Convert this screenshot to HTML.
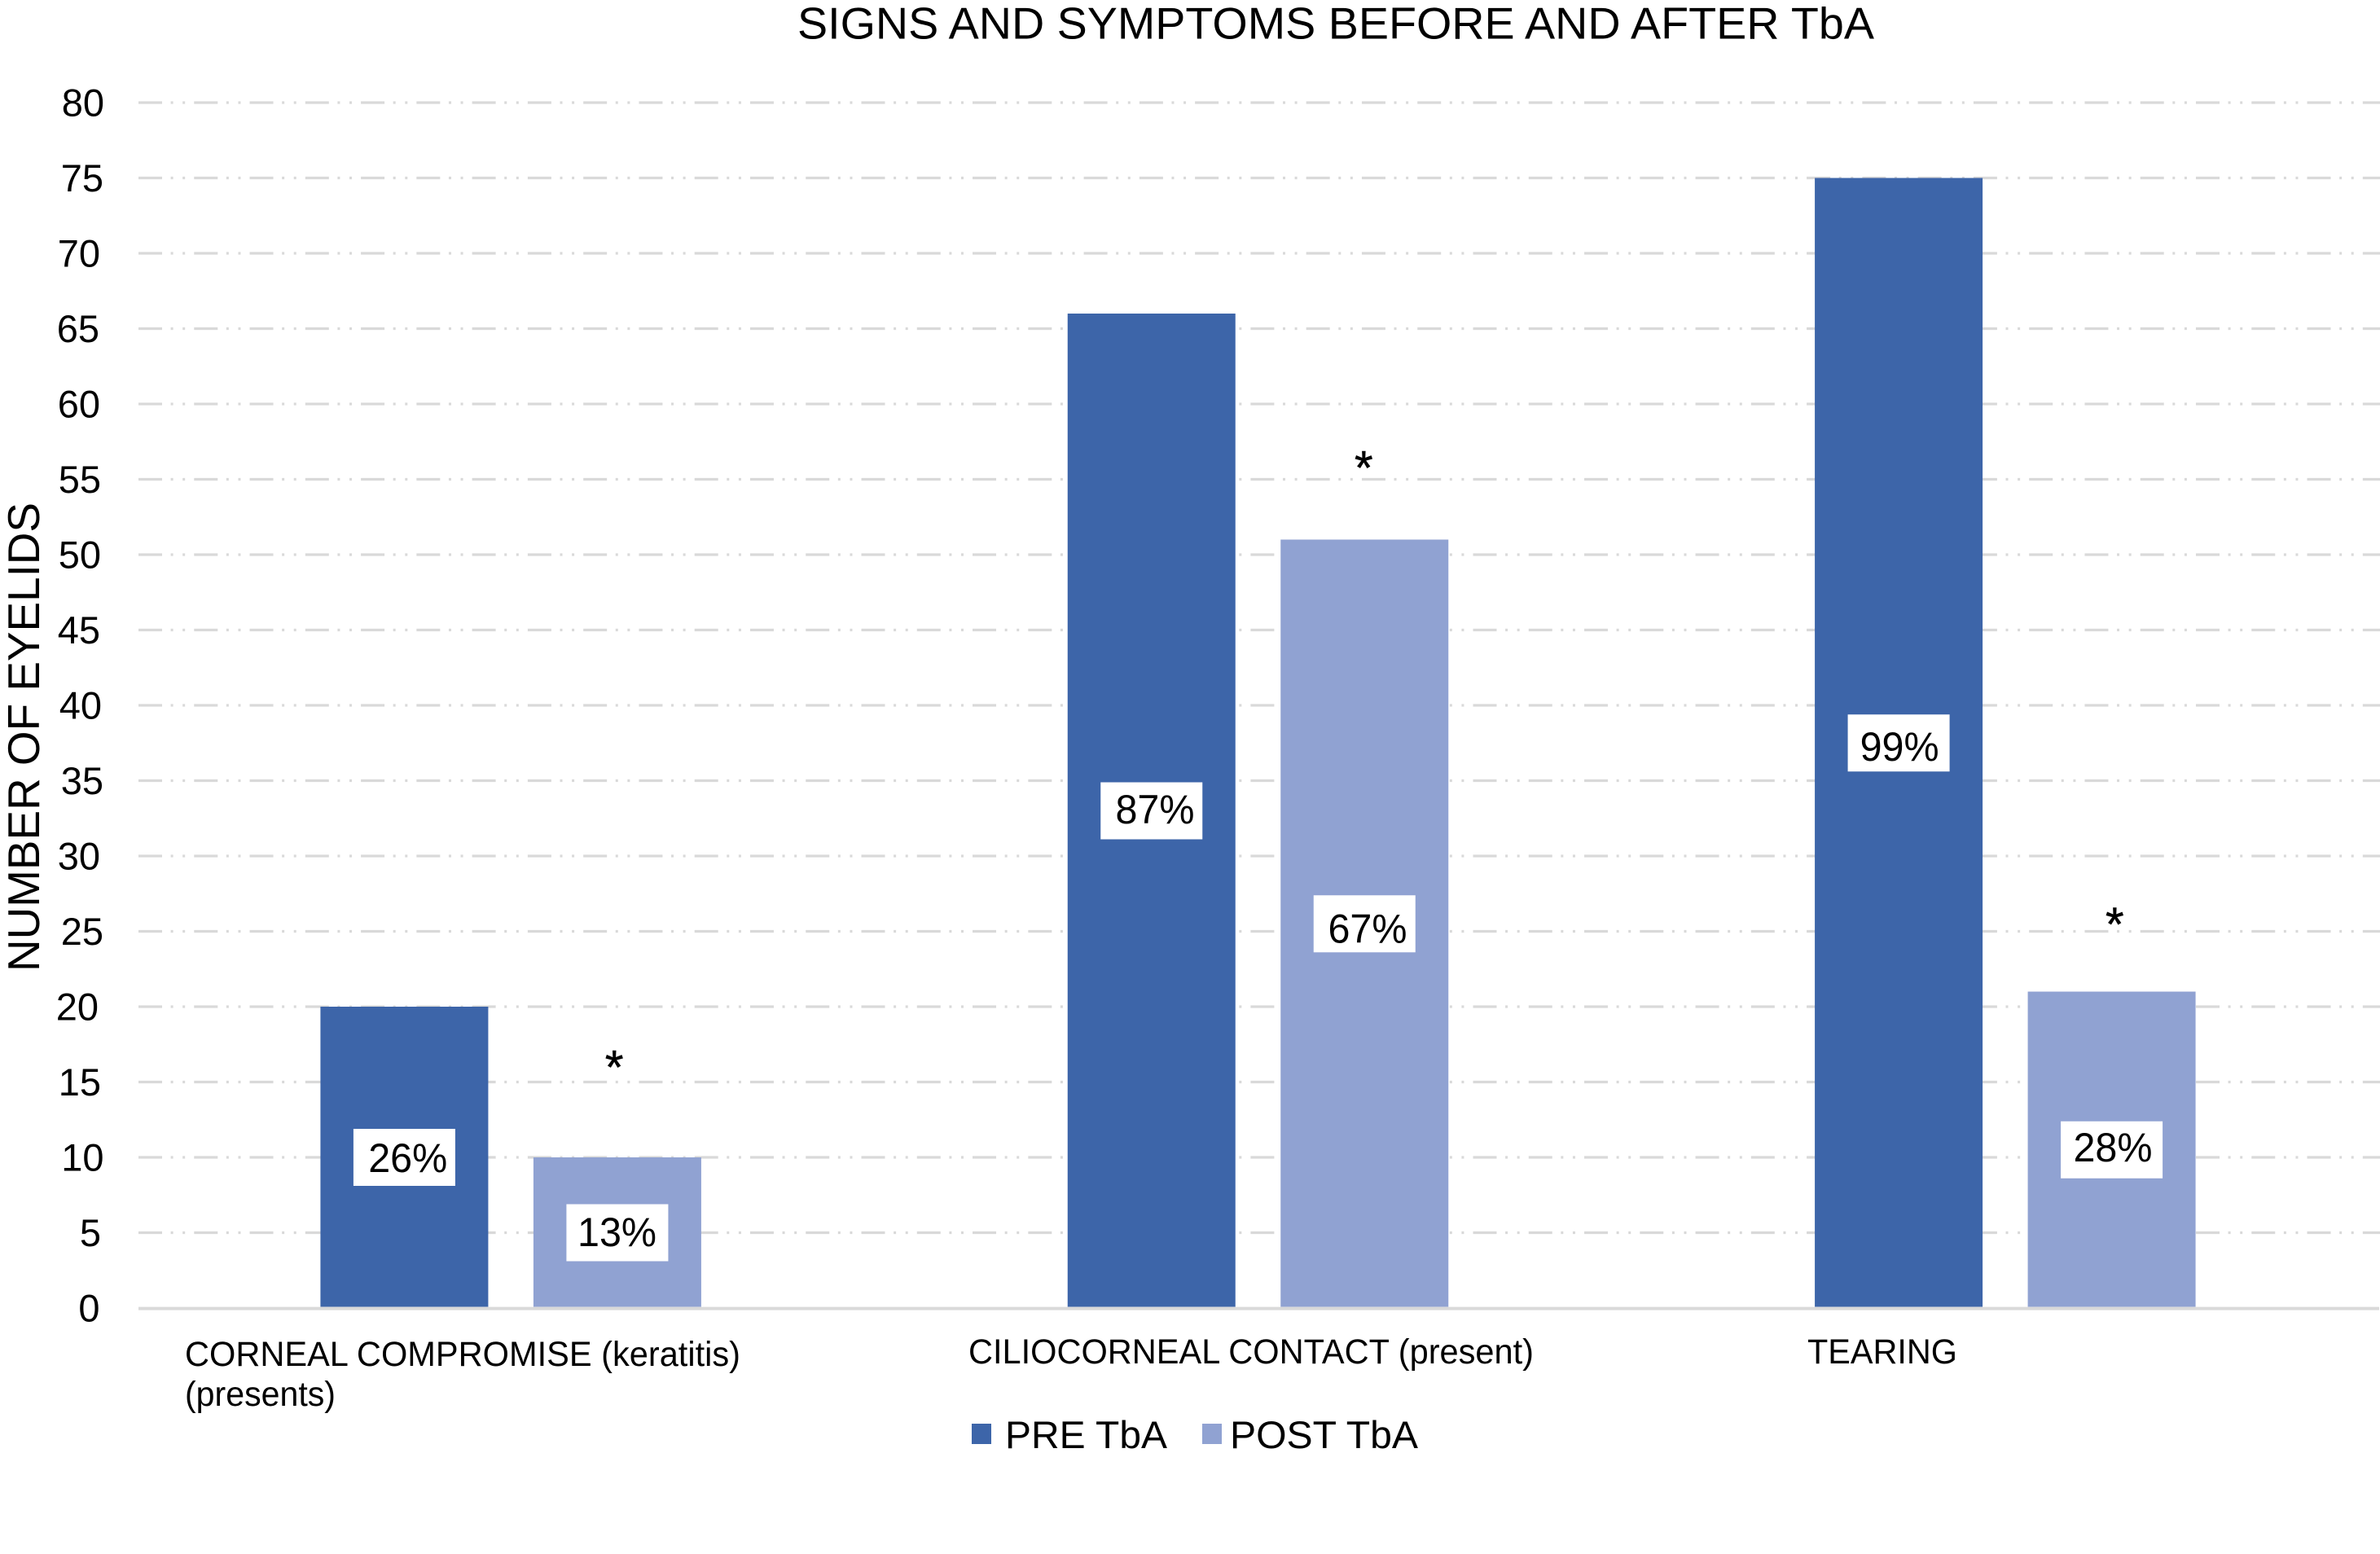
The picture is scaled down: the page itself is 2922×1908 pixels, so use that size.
<!DOCTYPE html>
<html lang="en">
<head>
<meta charset="utf-8">
<title>Signs and symptoms before and after TbA</title>
<style>
  html, body { margin: 0; padding: 0; background: #ffffff; }
  #chart { display: block; width: 2922px; height: 1908px; background: #ffffff; }
  text { font-family: "Liberation Sans", Arial, sans-serif; fill: #000000; }
</style>
</head>
<body>
<svg id="chart" xmlns="http://www.w3.org/2000/svg" width="2922" height="1908" viewBox="0 0 2922 1908">
  <rect x="0" y="0" width="2922" height="1908" fill="#ffffff"/>
  <g id="grid"></g>
  <g id="ticks"></g>
  <g id="bars"></g>
  <g id="labels"></g>
  <g id="marks"></g>

  <text x="979" y="47.5" font-size="55" textLength="1322" lengthAdjust="spacingAndGlyphs">SIGNS AND SYMPTOMS BEFORE AND AFTER TbA</text>
  <text transform="translate(48 1193) rotate(-90)" font-size="55" textLength="576" lengthAdjust="spacingAndGlyphs">NUMBER OF EYELIDS</text>

  <text x="227" y="1677" font-size="43" textLength="682" lengthAdjust="spacingAndGlyphs">CORNEAL COMPROMISE (keratitis)</text>
  <text x="227" y="1726" font-size="43" textLength="185" lengthAdjust="spacingAndGlyphs">(presents)</text>
  <text x="1189" y="1674" font-size="43" textLength="694" lengthAdjust="spacingAndGlyphs">CILIOCORNEAL CONTACT (present)</text>
  <text x="2219" y="1674" font-size="43" textLength="184" lengthAdjust="spacingAndGlyphs">TEARING</text>

  <g>
    <g>
      <rect x="1193" y="1748" width="24" height="25" fill="#3d65a9"/>
      <text x="1234" y="1778" font-size="47.6" textLength="199" lengthAdjust="spacingAndGlyphs">PRE TbA</text>
    </g>
    <g>
      <rect x="1476" y="1748" width="24" height="25" fill="#90a2d2"/>
      <text x="1510" y="1778" font-size="47.6" textLength="231" lengthAdjust="spacingAndGlyphs">POST TbA</text>
    </g>
  </g>
</svg>

<script>
const categories = ["Corneal compromise", "Ciliocorneal contact", "Tearing"];
const tickValues = [0, 5, 10, 15, 20, 25, 30, 35, 40, 45, 50, 55, 60, 65, 70, 75, 80];
const preValues = [20, 66, 75];
const postValues = [10, 51, 21];
const prePercentLabels = ["26%", "87%", "99%"];
const postPercentLabels = ["13%", "67%", "28%"];
const asteriskLevels = [16.4, 56.2, 25.9];

const NS = "http://www.w3.org/2000/svg";
const plotLeft = 170;
const plotRight = 2922;
const plotZeroY = 1606;
const plotTopY = 126;
const axisMax = 80;
const barWidth = 206;
const barOffset = 130.75;
const groupShift = -1.5;
const boxWidth = 125;
const boxHeight = 70;

/* Hand-placement offsets seen in the source artwork (layout only, not data). */
const tickNudgeX = [-2.5, -1, 2.5, -1, -4, 2, -2, 2, 0, -2, -1, -1, -2, -3, -2, 2, 3];
const preLabelNudge = [[4.3, 18], [4.2, 15.5], [1, 21.7]];
const postLabelNudge = [[-0.4, 16.5], [3.7, 23.3], [1.4, 14.25]];
const asteriskNudgeX = [-3.7, -1, 3.7];

function yScale(v) {
  return plotZeroY - (v / axisMax) * (plotZeroY - plotTopY);
}
function categoryCenter(i) {
  const band = (plotRight - plotLeft) / categories.length;
  return plotLeft + band * (i + 0.5) + groupShift;
}
function make(tag, attrs, text) {
  const el = document.createElementNS(NS, tag);
  for (const k in attrs) el.setAttribute(k, attrs[k]);
  if (text !== undefined) el.textContent = text;
  return el;
}

const gridGroup = document.getElementById("grid");
const tickGroup = document.getElementById("ticks");
const barGroup = document.getElementById("bars");
const labelGroup = document.getElementById("labels");
const markGroup = document.getElementById("marks");

tickValues.forEach(function (t, i) {
  const y = yScale(t);
  if (t === 0) {
    const axis = make("line", { x1: plotLeft, x2: plotRight - 1, y1: y + 0.6, y2: y + 0.6, stroke: "#d9d9d9", "stroke-width": 4 });
    
    
    gridGroup.appendChild(axis);
  } else {
    const line = make("line", { x1: plotLeft, x2: plotRight, y1: y, y2: y, stroke: "#d9d9d9", "stroke-width": 3.3, "stroke-dasharray": "29 10.6 3 11.6 3 11.07" });
    
    
    gridGroup.appendChild(line);
  }
  const label = make("text", { x: 125 + tickNudgeX[i], y: y + 16.5, "font-size": 47, "text-anchor": "end" }, String(t));
  
  
  tickGroup.appendChild(label);
});

function drawSeries(values, percents, side, color, nudges) {
  values.forEach(function (v, i) {
    const cx = categoryCenter(i) + side * barOffset;
    const top = yScale(v);
    const bar = make("rect", { x: cx - barWidth / 2, y: top, width: barWidth, height: plotZeroY - 1.5 - top, fill: color });
    
    
    barGroup.appendChild(bar);

    const midY = yScale(v / 2);
    const box = make("rect", { x: cx - boxWidth / 2, y: midY - boxHeight / 2, width: boxWidth, height: boxHeight, fill: "#ffffff" });
    
    
    labelGroup.appendChild(box);

    const txt = make("text", { x: cx + nudges[i][0], y: midY + nudges[i][1], "font-size": 50, "text-anchor": "middle", textLength: 97, lengthAdjust: "spacingAndGlyphs" }, percents[i]);
    
    
    labelGroup.appendChild(txt);
  });
}
drawSeries(preValues, prePercentLabels, -1, "#3d65a9", preLabelNudge);
drawSeries(postValues, postPercentLabels, 1, "#90a2d2", postLabelNudge);

asteriskLevels.forEach(function (level, i) {
  const cx = categoryCenter(i) + barOffset + asteriskNudgeX[i];
  const star = make("text", { x: cx, y: yScale(level) + 28, "font-size": 58, "text-anchor": "middle", stroke: "#000000", "stroke-width": 0.6 }, "*");
  
  
  markGroup.appendChild(star);
});
</script>
</body>
</html>
